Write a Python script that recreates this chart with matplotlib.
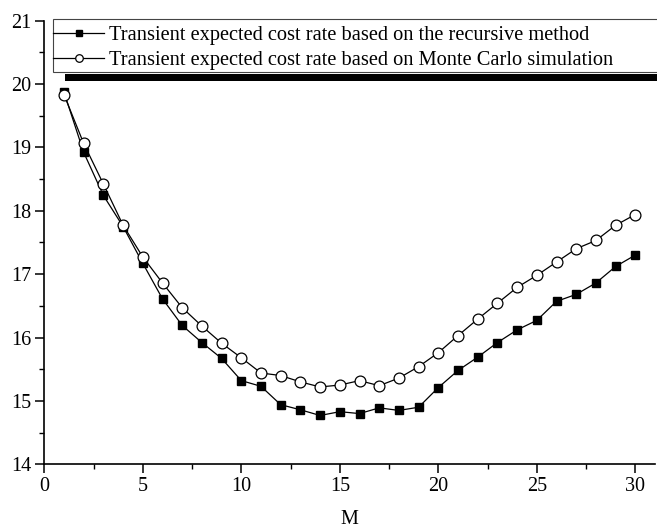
import matplotlib
matplotlib.use("Agg")
import matplotlib.pyplot as plt
from matplotlib.patches import Rectangle
from matplotlib.ticker import MultipleLocator

plt.rcParams['font.family'] = ['Liberation Serif', 'DejaVu Serif']
plt.rcParams['mathtext.fontset'] = 'stix'

M = list(range(1, 31))
recursive = [19.87, 18.92, 18.24, 17.75, 17.17, 16.61, 16.19, 15.92, 15.67, 15.32,
             15.23, 14.94, 14.86, 14.77, 14.83, 14.80, 14.89, 14.85, 14.90, 15.21,
             15.48, 15.69, 15.92, 16.12, 16.27, 16.57, 16.68, 16.86, 17.12, 17.30]
monte_carlo = [19.83, 19.06, 18.42, 17.77, 17.27, 16.86, 16.47, 16.18, 15.91, 15.68,
               15.44, 15.40, 15.30, 15.22, 15.25, 15.32, 15.24, 15.36, 15.54, 15.76,
               16.03, 16.29, 16.54, 16.79, 16.98, 17.19, 17.40, 17.53, 17.77, 17.94]
labels = ["Transient expected cost rate based on the recursive method",
          "Transient expected cost rate based on Monte Carlo simulation"]
x_label = "M"

W, H = 657, 531
fig = plt.figure(figsize=(W / 100, H / 100), dpi=100)
ax = fig.add_axes([44.3 / W, 1 - 464.3 / H, (655 - 44.3) / W, (464.3 - 20.5) / H])

ax.plot(M, recursive, color='black', lw=0.9, marker='s', ms=6.3,
        mfc='black', mec='black', label=labels[0], zorder=3)
ax.plot(M, monte_carlo, color='black', lw=0.9, marker='o', ms=7.8,
        mfc='white', mec='black', mew=0.9, label=labels[1], zorder=3)

ax.set_xlim(0, 31)
ax.set_ylim(14, 21)
ax.xaxis.set_major_locator(MultipleLocator(5))
ax.xaxis.set_minor_locator(MultipleLocator(2.5))
ax.yaxis.set_major_locator(MultipleLocator(1))
ax.yaxis.set_minor_locator(MultipleLocator(0.5))
for s in ['top', 'right']:
    ax.spines[s].set_visible(False)
for s in ['left', 'bottom']:
    ax.spines[s].set_linewidth(1.2)
ax.tick_params(which='major', direction='out', length=6.5, width=1.1, labelsize=14.5, pad=3)
ax.tick_params(which='minor', direction='out', length=3.5, width=1.0)
ax.set_xlabel(x_label, fontsize=14.5, labelpad=10)

# legend box frame and shadow strip
fig.patches.append(Rectangle((65 / W, 1 - 81 / H), 1.0, 7 / H, transform=fig.transFigure,
                             facecolor='black', edgecolor='none', zorder=1))
fig.patches.append(Rectangle((53 / W, 1 - 72 / H), 1.0, 53 / H, transform=fig.transFigure,
                             facecolor='white', edgecolor='#444444', lw=0.8, zorder=2))

leg = fig.legend(loc='upper left', bbox_to_anchor=(53 / W, 1 - 26 / H),
                 fontsize=14.7, frameon=False, markerscale=0.7,
                 handlelength=2.5, handletextpad=0.25, borderpad=0,
                 labelspacing=0.27, borderaxespad=0)
leg.set_zorder(5)

fig.savefig("out.png", dpi=100)
